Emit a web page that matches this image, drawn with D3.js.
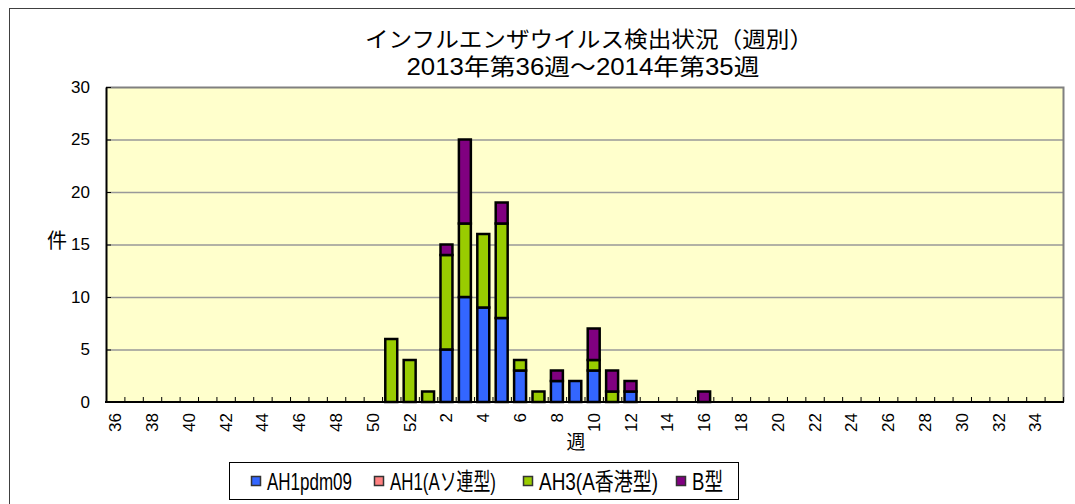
<!DOCTYPE html>
<html>
<head>
<meta charset="utf-8">
<script src="https://cdn.jsdelivr.net/npm/d3@7"></script>
<style>
  body { margin: 0; background: #fff; }
  svg text { font-family: "Liberation Sans", "Noto Sans CJK JP", sans-serif; fill: #000; }
</style>
</head>
<body>
<svg id="chart" width="1075" height="504"></svg>
<script>
// weeks 36..52 of 2013, then 1..35 of 2014
var weeks = [36,37,38,39,40,41,42,43,44,45,46,47,48,49,50,51,52,
             1,2,3,4,5,6,7,8,9,10,11,12,13,14,15,16,17,18,19,20,
             21,22,23,24,25,26,27,28,29,30,31,32,33,34,35];

var seriesNames = ["AH1pdm09", "AH1(Aソ連型)", "AH3(A香港型)", "B型"];
var seriesColors = ["#3366ff", "#ff8080", "#99cc00", "#800080"];

var ah1pdm09 = [0,0,0,0,0,0,0,0,0,0,0,0,0,0,0,0,0,
                0,5,10,9,8,3,0,2,2,3,0,1,0,0,0,0,0,0,0,0,
                0,0,0,0,0,0,0,0,0,0,0,0,0,0,0];
var ah1soviet = [0,0,0,0,0,0,0,0,0,0,0,0,0,0,0,0,0,
                 0,0,0,0,0,0,0,0,0,0,0,0,0,0,0,0,0,0,0,0,
                 0,0,0,0,0,0,0,0,0,0,0,0,0,0,0];
var ah3hongkong = [0,0,0,0,0,0,0,0,0,0,0,0,0,0,0,6,4,
                   1,9,7,7,9,1,1,0,0,1,1,0,0,0,0,0,0,0,0,0,
                   0,0,0,0,0,0,0,0,0,0,0,0,0,0,0];
var typeB = [0,0,0,0,0,0,0,0,0,0,0,0,0,0,0,0,0,
             0,1,8,0,2,0,0,1,0,3,2,1,0,0,0,1,0,0,0,0,
             0,0,0,0,0,0,0,0,0,0,0,0,0,0,0];

var yTicks = [0,5,10,15,20,25,30];

var svg = d3.select("#chart");
var plotL = 106, plotR = 1063, plotT = 87, plotB = 402;

// outer chart frame
svg.append("rect").attr("x", 9.5).attr("y", 8.5).attr("width", 1080).attr("height", 510)
  .attr("fill", "#fff").attr("stroke", "#404040").attr("stroke-width", 1);

// title
svg.append("text").attr("x", 589).attr("y", 47).attr("text-anchor", "middle")
  .attr("textLength", 448).attr("lengthAdjust", "spacingAndGlyphs")
  .style("font-size", "22px").text("インフルエンザウイルス検出状況（週別）");
svg.append("text").attr("x", 583).attr("y", 75).attr("text-anchor", "middle")
  .attr("textLength", 353).attr("lengthAdjust", "spacingAndGlyphs")
  .style("font-size", "23px").text("2013年第36週～2014年第35週");

var x = d3.scaleBand().domain(d3.range(weeks.length)).range([plotL, plotR])
  .paddingInner(0.35).paddingOuter(0.175);
var y = d3.scaleLinear().domain([0, 30]).range([plotB, plotT]);

// plot area
svg.append("rect").attr("x", plotL).attr("y", plotT).attr("width", plotR - plotL).attr("height", plotB - plotT)
  .attr("fill", "#ffffcc");

// grid
svg.append("g").selectAll("line").data(yTicks.filter(function (d) { return d > 0 && d < 30; }))
  .enter().append("line")
  .attr("x1", plotL).attr("x2", plotR)
  .attr("y1", function (d) { return y(d) + 0.5; }).attr("y2", function (d) { return y(d) + 0.5; })
  .attr("stroke", "#999").attr("stroke-width", 1.5);

// frame top/right gray
svg.append("path").attr("d", "M" + plotL + "," + (plotT + 0.5) + "H" + (plotR + 0.5) + "V" + plotB)
  .attr("fill", "none").attr("stroke", "#808080").attr("stroke-width", 2);

// stacked bars
var stack = d3.stack().keys([0, 1, 2, 3]).value(function (i, k) {
  return [ah1pdm09, ah1soviet, ah3hongkong, typeB][k][i];
});
var layers = stack(d3.range(weeks.length));

svg.append("g").selectAll("g").data(layers).enter().append("g")
  .attr("fill", function (d, k) { return seriesColors[k]; })
  .selectAll("rect").data(function (d) { return d.filter(function (s) { return s[1] > s[0]; }); })
  .enter().append("rect")
  .attr("x", function (d) { return x(d.data); })
  .attr("width", x.bandwidth())
  .attr("y", function (d) { return y(d[1]); })
  .attr("height", function (d) { return y(d[0]) - y(d[1]); })
  .attr("stroke", "#000").attr("stroke-width", 2.5);

// y axis
var yAxis = svg.append("g").attr("transform", "translate(" + plotL + ",0)")
  .call(d3.axisLeft(y).tickValues(yTicks).tickSizeInner(-5).tickSizeOuter(0).tickPadding(16));
yAxis.select(".domain").attr("stroke", "#000").attr("stroke-width", 2);
yAxis.selectAll(".tick line").attr("stroke", "#000");
yAxis.selectAll("text").style("font-size", "17px").attr("font-family", null);

// x axis: ticks between categories, labels on even weeks
var xg = svg.append("g");
xg.append("line").attr("x1", plotL - 1).attr("x2", plotR + 1).attr("y1", plotB).attr("y2", plotB)
  .attr("stroke", "#000").attr("stroke-width", 2);
xg.selectAll(".xt").data(d3.range(weeks.length + 1)).enter().append("line")
  .attr("x1", function (i) { return plotL + i * x.step() + 0.5; })
  .attr("x2", function (i) { return plotL + i * x.step() + 0.5; })
  .attr("y1", plotB).attr("y2", plotB - 5)
  .attr("stroke", "#000").attr("stroke-width", 1);
xg.selectAll(".xl").data(d3.range(weeks.length).filter(function (i) { return weeks[i] % 2 === 0; }))
  .enter().append("text")
  .attr("transform", function (i) {
    return "translate(" + (x(i) + x.bandwidth() / 2 + 6) + "," + 413 + ") rotate(-90)";
  })
  .attr("text-anchor", "end")
  .style("font-size", "17px")
  .text(function (i) { return weeks[i]; });

// axis titles
svg.append("text").attr("x", 57).attr("y", 248).attr("text-anchor", "middle")
  .style("font-size", "20px").text("件");
svg.append("text").attr("x", 576).attr("y", 449).attr("text-anchor", "middle")
  .style("font-size", "19px").text("週");

// legend
var legend = svg.append("g");
legend.append("rect").attr("x", 229.5).attr("y", 462.5).attr("width", 509).attr("height", 37)
  .attr("fill", "#fff").attr("stroke", "#000").attr("stroke-width", 1);
var legendX = [251, 374, 523, 676];
var legendW = [85, 106, 119, 31];
var item = legend.selectAll(".item").data(seriesNames).enter().append("g")
  .attr("transform", function (d, k) { return "translate(" + legendX[k] + ",0)"; });
item.append("rect").attr("x", 0.5).attr("y", 476.5).attr("width", 9).attr("height", 9)
  .attr("fill", function (d, k) { return seriesColors[k]; })
  .attr("stroke", "#333").attr("stroke-width", 1.5);
item.append("text").attr("x", 16).attr("y", 490)
  .attr("textLength", function (d, k) { return legendW[k]; }).attr("lengthAdjust", "spacingAndGlyphs")
  .style("font-size", "24px").text(function (d) { return d; });
</script>
</body>
</html>
